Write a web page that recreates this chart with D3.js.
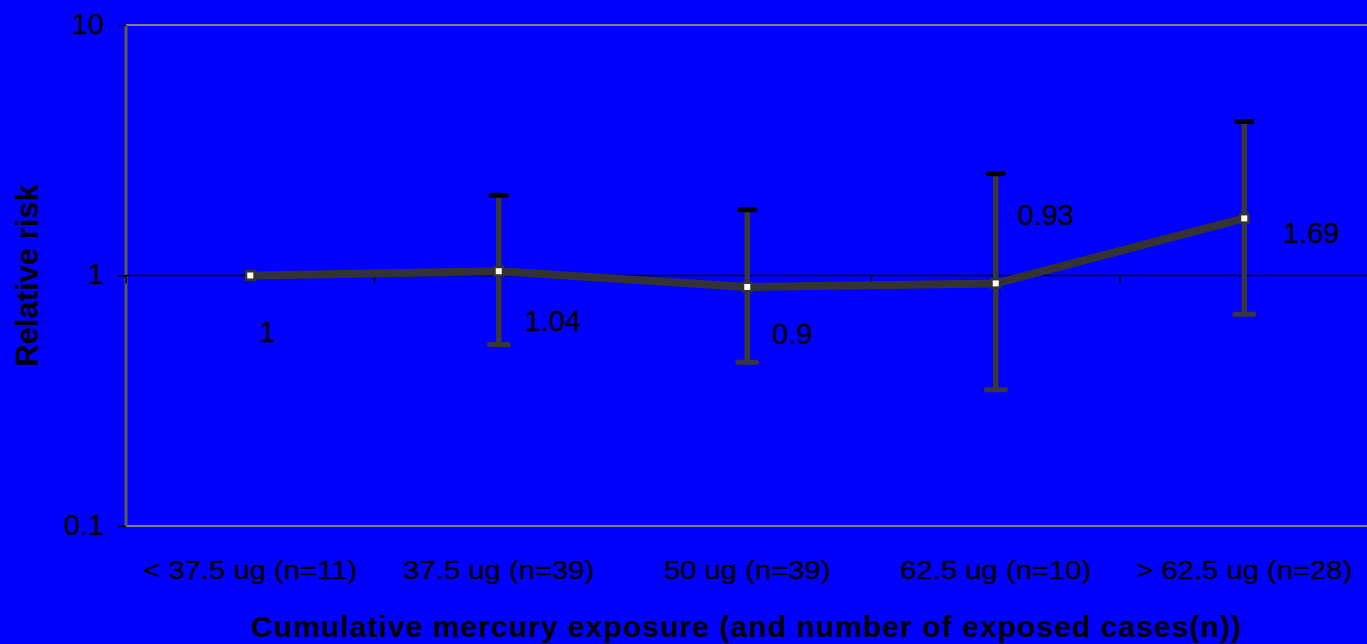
<!DOCTYPE html>
<html>
<head>
<meta charset="utf-8">
<script src="https://cdn.jsdelivr.net/npm/d3@7"></script>
<style>
  html, body { margin: 0; padding: 0; background: #0000ff; }
  svg { display: block; }
  text { font-family: "Liberation Sans", Arial, sans-serif; fill: #000; }
  .solid { stroke: #000; stroke-width: 0.3px; }
</style>
</head>
<body>
<svg id="chart" width="1367" height="644"></svg>
<script>
// Exposure groups and relative risk estimates with confidence limits
const categories = ["< 37.5 ug (n=11)", "37.5 ug (n=39)", "50 ug (n=39)", "62.5 ug (n=10)", "> 62.5 ug (n=28)"];
const relativeRisk = [1, 1.04, 0.9, 0.93, 1.69];
const ciLower = [null, 0.53, 0.45, 0.35, 0.70];
const ciUpper = [null, 2.09, 1.83, 2.55, 4.12];
const yTicks = [0.1, 1, 10];
const yTickLabels = ["0.1", "1", "10"];

// Placement of each value label relative to its point: [dx, dy]
const labelNudge = [[17, 66], [54, 60], [45, 57], [50, -58], [67, 25]];

const svg = d3.select("#chart");
const W = 1367, H = 644;
const plot = { left: 126, top: 25, right: 1368.5, bottom: 526 };

svg.append("rect").attr("width", W).attr("height", H).attr("fill", "#0000ff");

const x = d3.scaleBand().domain(categories).range([plot.left, plot.right]).padding(0);
const y = d3.scaleLog().domain([0.1, 10]).range([plot.bottom, plot.top]);
const cx = c => x(c) + x.bandwidth() / 2;

// Plot frame
svg.append("line").attr("x1", plot.left).attr("x2", W).attr("y1", plot.top).attr("y2", plot.top)
  .attr("stroke", "#808080").attr("stroke-width", 2);
svg.append("line").attr("x1", plot.left).attr("x2", W).attr("y1", plot.bottom).attr("y2", plot.bottom)
  .attr("stroke", "#808080").attr("stroke-width", 2);
svg.append("line").attr("x1", plot.left).attr("x2", plot.left).attr("y1", plot.top).attr("y2", plot.bottom)
  .attr("stroke", "#5a5a5a").attr("stroke-width", 3);

// Value axis (log)
const yAxis = d3.axisLeft(y).tickValues(yTicks).tickFormat((d, i) => yTickLabels[i]).tickSize(8).tickPadding(14);
const gy = svg.append("g").attr("transform", `translate(${plot.left},0)`).call(yAxis);
gy.select(".domain").remove();
gy.selectAll(".tick line").attr("stroke", "#000").attr("stroke-width", 1.5);
gy.selectAll(".tick text").attr("font-size", 29).attr("dy", "0.28em").attr("class", "solid")
  .attr("font-family", "Liberation Sans, Arial, sans-serif").attr("fill", "#000");

// Category axis crossing at 1
const y1 = y(1);
svg.append("line").attr("x1", plot.left).attr("x2", W).attr("y1", y1).attr("y2", y1)
  .attr("stroke", "#000").attr("stroke-width", 1.5);
const boundaries = categories.map(c => x(c)).concat([plot.right]);
svg.append("g").selectAll("line").data(boundaries).join("line")
  .attr("x1", d => d).attr("x2", d => d).attr("y1", y1).attr("y2", y1 + 8)
  .attr("stroke", "#000").attr("stroke-width", 1.5);

// Category labels
svg.append("g").selectAll("text").data(categories).join("text")
  .attr("class", "solid")
  .attr("transform", d => `translate(${cx(d)},579) scale(1.17,1)`)
  .attr("text-anchor", "middle").attr("font-size", 25)
  .text(d => d);

// Axis titles
svg.append("text").attr("x", 746).attr("y", 637).attr("text-anchor", "middle")
  .attr("font-size", 30).attr("font-weight", "bold")
  .attr("textLength", 990).attr("lengthAdjust", "spacing")
  .text("Cumulative mercury exposure (and number of exposed cases(n))");
svg.append("text").attr("transform", "translate(38,275.5) rotate(-90)").attr("text-anchor", "middle")
  .attr("font-size", 31).attr("font-weight", "bold")
  .text("Relative risk");

// Series data
const pts = categories.map((c, i) => ({ c, v: relativeRisk[i], lo: ciLower[i], hi: ciUpper[i], i }));

const line = d3.line().x(d => cx(d.c)).y(d => y(d.v));
svg.append("path").datum(pts).attr("d", line)
  .attr("fill", "none").attr("stroke", "#333333").attr("stroke-width", 8).attr("stroke-linejoin", "round");

// Confidence interval bars
const bars = svg.append("g").selectAll("g").data(pts.filter(d => d.lo != null)).join("g");
bars.append("line").attr("x1", d => cx(d.c)).attr("x2", d => cx(d.c))
  .attr("y1", d => y(d.hi)).attr("y2", d => y(d.lo))
  .attr("stroke", "#383838").attr("stroke-width", 5.5);
bars.append("line").attr("x1", d => cx(d.c) - 7.5).attr("x2", d => cx(d.c) + 7.5)
  .attr("y1", d => y(d.hi)).attr("y2", d => y(d.hi))
  .attr("stroke", "#000").attr("stroke-width", 5).attr("stroke-linecap", "round");
bars.append("line").attr("x1", d => cx(d.c) - 9.5).attr("x2", d => cx(d.c) + 9.5)
  .attr("y1", d => y(d.lo)).attr("y2", d => y(d.lo))
  .attr("stroke", "#383838").attr("stroke-width", 5).attr("stroke-linecap", "round");

// Markers
svg.append("g").selectAll("rect").data(pts).join("rect")
  .attr("x", d => cx(d.c) - 4.25).attr("y", d => y(d.v) - 4.25)
  .attr("width", 8.5).attr("height", 8.5)
  .attr("fill", "#fff").attr("stroke", "#333333").attr("stroke-width", 2.5);

// Value labels
svg.append("g").selectAll("text").data(pts).join("text")
  .attr("class", "solid")
  .attr("x", d => cx(d.c) + labelNudge[d.i][0])
  .attr("y", d => y(d.v) + labelNudge[d.i][1])
  .attr("text-anchor", "middle").attr("font-size", 29)
  .text(d => String(d.v));
</script>
</body>
</html>
